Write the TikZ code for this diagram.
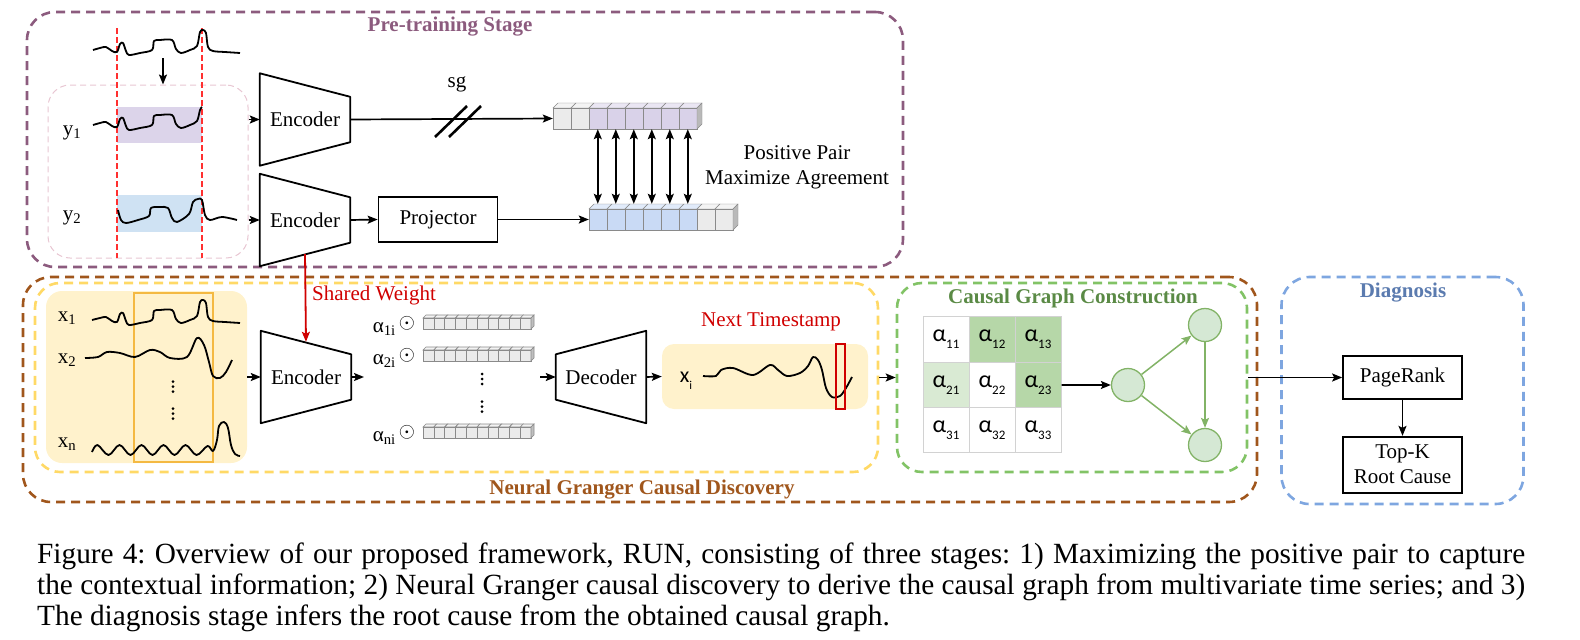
\documentclass[tikz,border=0pt]{standalone}
\usepackage{fontspec}
\setmainfont{Liberation Serif}
\newfontfamily\calfont{Carlito}
\usetikzlibrary{arrows.meta,positioning}

\definecolor{preclr}{HTML}{8C5B7E}
\definecolor{augclr}{HTML}{E8C6D2}
\definecolor{cutclr}{HTML}{FF3030}
\definecolor{pfill}{HTML}{DCD4EA}
\definecolor{bfill}{HTML}{CFE2F3}
\definecolor{pcell}{HTML}{D9D2E9}
\definecolor{bcell}{HTML}{C9DAF5}
\definecolor{gcell}{HTML}{EBEBEB}
\definecolor{cline}{HTML}{8A8A8A}
\definecolor{grclr}{HTML}{A0561C}
\definecolor{ylwclr}{HTML}{FFD966}
\definecolor{beige}{HTML}{FFF2CC}
\definecolor{winclr}{HTML}{F4B942}
\definecolor{grnclr}{HTML}{82C366}
\definecolor{grntxt}{HTML}{5A8A45}
\definecolor{mgreen}{HTML}{B6D7A8}
\definecolor{lgreen}{HTML}{D9EAD3}
\definecolor{gnfill}{HTML}{D5E8D4}
\definecolor{gnline}{HTML}{82B366}
\definecolor{diagclr}{HTML}{7EA6E0}
\definecolor{diagtxt}{HTML}{5B7BAF}
\definecolor{wred}{HTML}{D00000}

\tikzset{node distance=2.5cm, auto,
  >={Stealth[length=10pt,width=8pt,inset=2pt]},
  stage/.style={draw=#1, dash pattern=on 9pt off 6pt, line width=2.6pt,
    rounded corners=28pt, inner sep=0pt},
  title/.style={font=\fontsize{21}{25}\selectfont\bfseries, inner sep=0pt},
  coder/.style={minimum width=90pt, minimum height=92pt, inner sep=0pt},
  coderline/.style={draw, line width=1.8pt, line join=round},
  box/.style={draw, line width=1.7pt, minimum width=119pt, inner sep=0pt},
  conn/.style={->, line width=1.7pt},
  wave/.style={line width=1.8pt, line join=round},
  mcell/.style={draw=gray!35, line width=1pt, minimum width=46pt,
    minimum height=45.3pt, inner sep=0pt},
  gnode/.style={circle, draw=gnline, fill=gnfill, line width=1.3pt,
    minimum size=33pt, inner sep=0pt},
}

\newcommand{\encshape}[1]{\draw[coderline] (#1.north west) -- ([yshift=-23.5pt]#1.north east)
  -- ([yshift=23.5pt]#1.south east) -- (#1.south west) -- cycle;}
\newcommand{\decshape}[1]{\draw[coderline] ([yshift=-23.5pt]#1.north west) -- (#1.north east)
  -- (#1.south east) -- ([yshift=23.5pt]#1.south west) -- cycle;}

\begin{document}
\begin{tikzpicture}[x=1pt, y=-1pt, font=\fontsize{21}{25}\selectfont]
\useasboundingbox (0,0) rectangle (1580,640);

% stage frames
\node[stage=preclr, minimum width=876pt, minimum height=255pt] (pre) at (465,139.5) {};
\node[stage=grclr, minimum width=1234pt, minimum height=225pt] (ngcd) at (640,389.5) {};
\node[stage=ylwclr, rounded corners=25pt, minimum width=843pt, minimum height=189pt] (nn) at (456.5,377.5) {};
\node[stage=grnclr, rounded corners=25pt, minimum width=350pt, minimum height=189pt] (cgc) at (1072,377.5) {};
\node[stage=diagclr, minimum width=242pt, minimum height=227pt] (diag) at (1402.5,390.5) {};

\node[title, text=preclr] (pretitle) at (450,27) {Pre-training Stage};
\node[title, text=grclr] (ngctitle) at (642,490) {Neural Granger Causal Discovery};
\node[title, text=grntxt] (cgctitle) at (1073,298) {Causal Graph Construction};
\node[title, text=diagtxt] (diagtitle) at (1403,293) {Diagnosis};

% ---- pre-training ----
\node[draw=augclr, line width=1pt, dash pattern=on 6pt off 4pt, rounded corners=22pt,
  minimum width=200pt, minimum height=173pt] (aug) at (148,171.5) {};
\fill[pfill] (117,107) rectangle (202,143);
\fill[bfill] (117,195) rectangle (202,232);
\draw[cutclr, line width=1.5pt, dash pattern=on 6pt off 3pt] (117,28) -- (117,258);
\draw[cutclr, line width=1.5pt, dash pattern=on 6pt off 3pt] (202,28) -- (202,258);

\draw[wave] plot[smooth, tension=0.55] coordinates {(93,50) (100,48) (106,47) (112,51) (117,52)
  (120,44) (123,43) (126,51) (129,55) (140,53) (152,50) (154,41) (160,40) (172,40) (176,49)
  (181,53) (190,50) (197,46) (200,32) (203,30) (206,33) (208,47) (213,51) (225,52) (240,53)};
\draw[wave] plot[smooth, tension=0.55] coordinates {(93,125) (100,123) (106,122) (112,126) (117,127)
  (120,119) (123,118) (126,126) (129,130) (140,128) (152,125) (154,116) (160,115) (172,115)
  (176,124) (181,128) (190,125) (197,121) (200,110) (202,107)};
\draw[wave] plot[smooth, tension=0.55] coordinates {(118,210) (121,220) (126,223) (138,220)
  (149,216) (151,208) (160,207) (168,208) (172,218) (177,222) (189,214) (193,202) (198,199)
  (202,200) (205,215) (210,220) (222,217) (237,220)};

\coordinate (tsdown) at (163,58);
\draw[conn] (tsdown) -- (tsdown |- aug.north);

\node (y1) at (72,133) {y\textsubscript{1}};
\node (y2) at (72,218) {y\textsubscript{2}};

\node[coder] (enc1) at (305,119.5) {Encoder};
\encshape{enc1}
\node[coder] (enc2) at (305,220) {Encoder};
\encshape{enc2}
\node[box, minimum height=45pt] (proj) at (438,219.5) {Projector};

\draw[conn] (aug.east |- enc1.west) -- (enc1.west);
\draw[conn] (aug.east |- enc2.west) -- (enc2.west);
\draw[conn] (enc2.east) -- (proj.west);

% embedding vectors
\node[minimum width=144pt, minimum height=21pt, inner sep=0pt] (vecA) at (625,118.5) {};
\node[minimum width=144pt, minimum height=21pt, inner sep=0pt] (vecB) at (661,219.5) {};
\foreach \i/\col in {0/gcell,1/gcell,2/pcell,3/pcell,4/pcell,5/pcell,6/pcell,7/pcell}{
  \filldraw[fill=\col!55!white, draw=cline] ({553+18*\i},108) -- ++(5,-5) -- ++(18,0) -- ++(-5,5) -- cycle;
  \filldraw[fill=\col, draw=cline] ({553+18*\i},108) rectangle ++(18,21);
}
\filldraw[fill=gray!55, draw=cline] (697,108) -- ++(5,-5) -- ++(0,21) -- ++(-5,5) -- cycle;
\foreach \i/\col in {0/bcell,1/bcell,2/bcell,3/bcell,4/bcell,5/bcell,6/gcell,7/gcell}{
  \filldraw[fill=\col!55!white, draw=cline] ({589+18*\i},209) -- ++(5,-5) -- ++(18,0) -- ++(-5,5) -- cycle;
  \filldraw[fill=\col, draw=cline] ({589+18*\i},209) rectangle ++(18,21);
}
\filldraw[fill=gray!55, draw=cline] (733,209) -- ++(5,-5) -- ++(0,21) -- ++(-5,5) -- cycle;

\draw[conn] (enc1.east) -- (vecA.west);
\draw[conn] (proj.east) -- (vecB.west);
\foreach \k in {0,...,5}
  \draw[<->, line width=1.6pt] ([xshift={45pt+18pt*\k}]vecA.south west) -- ([xshift={9pt+18pt*\k}, yshift=5pt]vecB.north west);

\coordinate (sgmid) at (458,121);
\draw[line width=2.6pt] (435,137) -- (467,106);
\draw[line width=2.6pt] (449,137) -- (481,106);
\node (sg) at (457,84) {sg};
\node[align=center] (pospair) at (797,167) {Positive Pair\\Maximize Agreement};

% ---- neural granger causal discovery ----
\node[fill=beige, rounded corners=16pt, minimum width=201pt, minimum height=172pt] (xs) at (146.5,377) {};
\draw[winclr, line width=1.6pt] (134,293) rectangle (213,462);
\draw[wave] plot[smooth, tension=0.55] coordinates {(92,320) (100,318) (106,317) (112,321) (117,322)
  (120,314) (123,313) (126,321) (129,325) (140,323) (152,320) (154,311) (160,310) (172,310) (176,319)
  (181,323) (190,320) (197,316) (200,302) (203,300) (206,303) (208,317) (213,321) (225,322) (240,323)};
\draw[wave] plot[smooth, tension=0.55] coordinates {(85,358) (98,357) (107,352) (120,353) (135,357)
  (150,350) (160,352) (170,358) (187,357) (197,338) (204,345) (209,362) (213,376) (220,378) (226,372) (232,360)};
\draw[wave] plot[smooth, tension=0.6] coordinates {(92,452) (97.5,445) (108.5,455) (119.5,445)
  (130.5,455) (141.5,445) (152.5,455) (163.5,445) (174.5,455) (185.5,445) (196.5,455) (207.5,446)
  (213,451) (217,440) (219,426) (224,422) (228,428) (231,445) (235,454) (240,456)};
\node (x1) at (67,318) {x\textsubscript{1}};
\node (x2) at (67,360) {x\textsubscript{2}};
\node (xn) at (67,444) {x\textsubscript{n}};

% vertical ellipses
\foreach \cx/\cy in {173/386.5, 173/413.5, 482/379, 482/406.5}
  \foreach \d in {-5,0,5}
    \fill (\cx,{\cy+\d}) circle (1.5);

\node[coder] (enc3) at (306,377) {Encoder};
\encshape{enc3}
\draw[conn] (xs.east) -- (enc3.west);
\draw[->, wred, line width=1.8pt] ([yshift=12pt]enc2.south) -- ([yshift=-11pt]enc3.north);
\node[text=wred] (shared) at (374,295) {Shared Weight};
\coordinate (encout) at (364,377);
\draw[conn] (enc3.east) -- (encout);

% weighted latent vectors
\foreach \row/\yy in {1/318,2/350,n/427}{
  \foreach \i in {0,...,9}{
    \filldraw[fill=gcell!60!white, draw=cline, line width=0.6pt] ({423+10.8*\i},\yy) -- ++(3,-3) -- ++(10.8,0) -- ++(-3,3) -- cycle;
    \filldraw[fill=gcell, draw=cline, line width=0.6pt] ({423+10.8*\i},\yy) rectangle ++(10.8,11);
  }
  \filldraw[fill=gray!50, draw=cline, line width=0.6pt] (531,\yy) -- ++(3,-3) -- ++(0,11) -- ++(-3,3) -- cycle;
  \node[anchor=base east, inner sep=0pt] (a\row) at (396,{\yy+14}) {α\textsubscript{\row i}};
  \node[inner sep=0pt] (o\row) at (407,{\yy+5}) {$\odot$};
}

\coordinate (decin) at (540,377);
\node[coder] (dec) at (601,377) {Decoder};
\decshape{dec}
\draw[conn] (decin) -- (dec.west);
\node[fill=beige, rounded corners=12pt, minimum width=206pt, minimum height=65pt] (pred) at (765,376.5) {};
\draw[conn] (dec.east) -- (pred.west);
\draw[wave] plot[smooth, tension=0.55] coordinates {(703,376) (716,376) (721,370) (733,368) (753,375)
  (770,365) (778,370) (787,376) (800,373) (808,366) (813,357) (818,360) (822,370) (826,388)
  (832,397) (840,396) (846,388) (852,377)};
\draw[wred, line width=1.5pt] (836,344) rectangle (845,409);
\node[font=\calfont\fontsize{22}{24}\selectfont] (xi) at (686,381) {x\raisebox{-7pt}{\fontsize{12}{12}\selectfont i}};
\node[text=wred] (nextts) at (771,322) {Next Timestamp};
\draw[conn] (nn.east) -- (cgc.west);

% ---- causal graph construction ----
\foreach \r/\c/\f/\t in {0/0/white/11, 0/1/mgreen/12, 0/2/mgreen/13,
                         1/0/lgreen/21, 1/1/white/22, 1/2/mgreen/23,
                         2/0/white/31, 2/1/white/32, 2/2/white/33}
  \node[mcell, fill=\f] (m\t) at ({946+46*\c},{339.6+45.3*\r})
    {\calfont\fontsize{24}{25}\selectfont α\raisebox{-7pt}{\fontsize{13}{13}\selectfont\t}};

\node[gnode] (g1) at (1128,385) {};
\node[gnode] (g2) at (1205,325) {};
\node[gnode] (g3) at (1205,445) {};
\draw[conn] (m23.east) -- (g1.west);
\draw[->, gnline, line width=1.5pt] (g1) -- (g2);
\draw[->, gnline, line width=1.5pt] (g1) -- (g3);
\draw[->, gnline, line width=1.5pt] (g2) -- (g3);

% ---- diagnosis ----
\node[box, minimum height=43pt] (rank) at (1402.5,377.5) {PageRank};
\node[box, minimum height=56pt, align=center, below=36pt of rank] (topk) {Top-K\\Root Cause};
\draw[conn] (cgc.east) -- (rank.west);
\draw[conn] (rank) -- (topk);

% ---- caption ----
\frenchspacing
\node[anchor=base west, inner sep=0pt, font=\fontsize{29.3}{31}\selectfont] (cap1) at (37,563)
  {\makebox[1488pt][s]{Figure 4: Overview of our proposed framework, RUN, consisting of three stages: 1) Maximizing the positive pair to capture}};
\node[anchor=base west, inner sep=0pt, font=\fontsize{29.3}{31}\selectfont] (cap2) at (37,594)
  {\makebox[1488pt][s]{the contextual information; 2) Neural Granger causal discovery to derive the causal graph from multivariate time series; and 3)}};
\node[anchor=base west, inner sep=0pt, font=\fontsize{29.3}{31}\selectfont] (cap3) at (37,625)
  {The diagnosis stage infers the root cause from the obtained causal graph.};
\end{tikzpicture}
\end{document}
